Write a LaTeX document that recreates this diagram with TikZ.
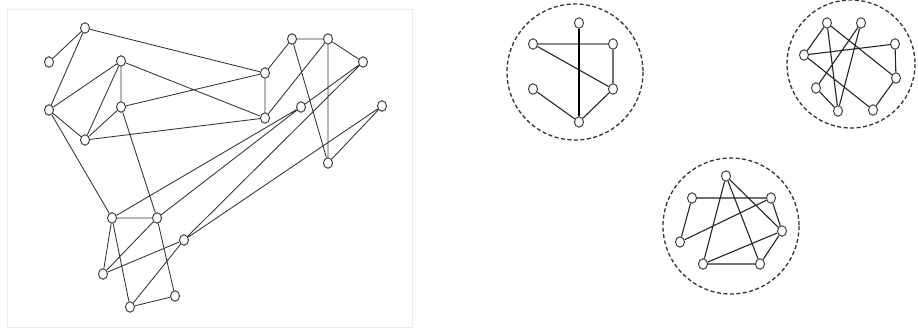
\documentclass[tikz,border=0pt]{standalone}
\usetikzlibrary{shapes.geometric,backgrounds}
\begin{document}
\begin{tikzpicture}[x=1pt,y=-1pt,
  vtx/.style={ellipse,draw=black!75,fill=white,line width=1pt,minimum width=9pt,minimum height=10.5pt,inner sep=0pt},
  edge/.style={draw=black!80,line width=0.85pt},
  cedge/.style={draw=black!85,line width=1.1pt},
  boldedge/.style={draw=black,line width=1.4pt},
  grayedge/.style={draw=black!45,line width=1.4pt},
  boundary/.style={draw=black!80,dashed,dash pattern=on 4pt off 2.5pt,line width=1.3pt}]
\useasboundingbox (0,0) rectangle (918,330);
% left graph nodes
\node[vtx] (A) at (85,28) {};
\node[vtx] (B) at (49,62) {};
\node[vtx] (C) at (121,61) {};
\node[vtx] (D) at (49,110) {};
\node[vtx] (E) at (121,107) {};
\node[vtx] (F) at (85,140) {};
\node[vtx] (G) at (265,73) {};
\node[vtx] (H) at (265,118) {};
\node[vtx] (I) at (292,39) {};
\node[vtx] (J) at (328,39) {};
\node[vtx] (K) at (363,62) {};
\node[vtx] (L) at (301,107) {};
\node[vtx] (M) at (382,106) {};
\node[vtx] (N) at (328,163) {};
\node[vtx] (O) at (112,218) {};
\node[vtx] (P) at (157,218) {};
\node[vtx] (Q) at (184,240) {};
\node[vtx] (R) at (103,274) {};
\node[vtx] (S) at (175,296) {};
\node[vtx] (T) at (130,307) {};
% cluster 1
\node[vtx] (a1) at (579,23) {};
\node[vtx] (a2) at (533,44) {};
\node[vtx] (a3) at (613,44) {};
\node[vtx] (a4) at (533,89) {};
\node[vtx] (a5) at (613,89) {};
\node[vtx] (a6) at (579,122) {};
% cluster 2
\node[vtx] (b1) at (827,23) {};
\node[vtx] (b2) at (861,23) {};
\node[vtx] (b3) at (895,44) {};
\node[vtx] (b4) at (804,55) {};
\node[vtx] (b5) at (896,78) {};
\node[vtx] (b6) at (816,88) {};
\node[vtx] (b7) at (838,111) {};
\node[vtx] (b8) at (873,110) {};
% cluster 3
\node[vtx] (c1) at (726,176) {};
\node[vtx] (c2) at (692,198) {};
\node[vtx] (c3) at (771,198) {};
\node[vtx] (c4) at (782,231) {};
\node[vtx] (c5) at (680,242) {};
\node[vtx] (c6) at (703,264) {};
\node[vtx] (c7) at (760,264) {};
\begin{scope}[on background layer]
\fill[white] (0,0) rectangle (918,330);
\draw[black!8,line width=0.8pt] (7,9) rectangle (412,327);
\draw[edge] (A)--(B) (A)--(D) (A)--(G) (D)--(C) (D)--(F) (C)--(E) (C)--(F) (E)--(F)
  (C)--(H) (E)--(G) (F)--(H) (D)--(O) (E)--(P) (G)--(H) (G)--(I) (I)--(J) (J)--(K)
  (J)--(H) (J)--(N) (I)--(N) (K)--(L) (M)--(N) (L)--(O) (L)--(P) (K)--(Q) (M)--(Q)
  (O)--(P) (O)--(R) (O)--(T) (P)--(R) (P)--(S) (Q)--(R) (Q)--(T) (T)--(S);
\draw[boundary] (575,72) circle[radius=68];
\draw[boundary] (851,64) circle[radius=64];
\draw[boundary] (731,226) circle[radius=68];
\draw[grayedge] (a2)--(a3);
\draw[cedge] (a2)--(a5) (a3)--(a5) (a4)--(a6) (a5)--(a6);
\draw[boldedge] (a1)--(a6);
\draw[cedge] (b1)--(b4) (b1)--(b7) (b1)--(b5) (b4)--(b3) (b3)--(b5) (b4)--(b8)
  (b2)--(b7) (b2)--(b6) (b6)--(b7) (b5)--(b8);
\draw[cedge] (c2)--(c3) (c2)--(c5) (c5)--(c3) (c1)--(c6) (c1)--(c7) (c1)--(c4)
  (c3)--(c4) (c4)--(c6) (c4)--(c7) (c6)--(c7);
\end{scope}
\end{tikzpicture}
\end{document}
